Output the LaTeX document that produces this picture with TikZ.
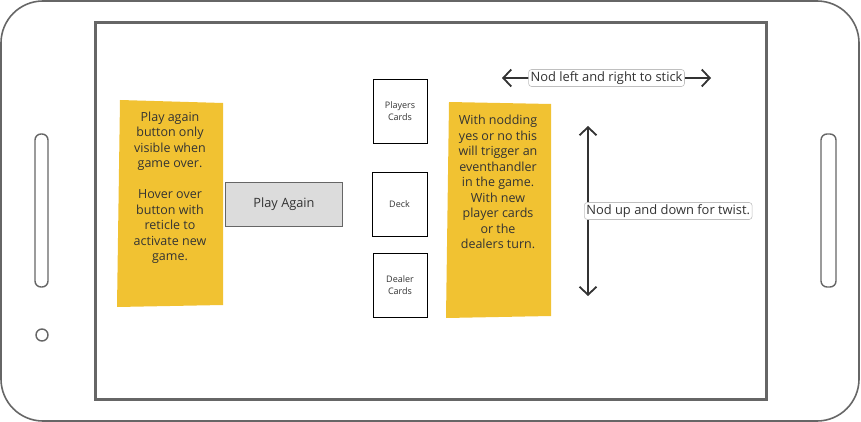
\documentclass[tikz,border=0pt]{standalone}
\usepackage{fontspec}
\setmainfont{Open Sans}
\usetikzlibrary{arrows.meta}
\definecolor{frame}{HTML}{666666}
\definecolor{note}{HTML}{F1C232}
\definecolor{ink}{HTML}{333333}
\definecolor{btn}{HTML}{DCDCDC}
\tikzset{
  phone/.style={draw=frame,line width=1.6pt},
  notetext/.style={text=ink,font=\fontsize{12.5}{15.5}\selectfont,align=center},
  card/.style={draw=black,line width=0.9pt,fill=white},
  cardtext/.style={text=ink,font=\fontsize{9}{12}\selectfont,align=center},
  nodarrow/.style={draw=ink,line width=1.8pt,{Straight Barb[length=8pt,width=17pt,line width=1.8pt]}-{Straight Barb[length=8pt,width=17pt,line width=1.8pt]}},
  tag/.style={draw=black!25,fill=white,rounded corners=3pt,line width=0.6pt,text=ink,font=\fontsize{12.9}{14}\selectfont,inner xsep=2pt,inner ysep=2pt}
}
\begin{document}
\begin{tikzpicture}[x=1pt,y=-1pt]
\useasboundingbox (0,0) rectangle (861,422);
% phone
\draw[phone,rounded corners=42pt] (1,1) rectangle (859,421);
\draw[draw=frame,line width=3pt] (95,23) rectangle (766,399);
\draw[phone,line width=1.4pt,rounded corners=6pt] (35,134) rectangle (48,287);
\draw[phone,line width=1.4pt,rounded corners=6pt] (821,134) rectangle (836,287);
\draw[phone,line width=1.4pt] (42,335) circle (6);
% left note
\fill[note] (120,100) -- (223,103) -- (223,305) -- (117,307) -- cycle;
\node[notetext] (n1) at (170,188) {Play again\\button only\\visible when\\game over.\\[15.5pt]Hover over\\button with\\reticle to\\activate new\\game.};
% play again button
\node[draw=frame,fill=btn,line width=0.8pt,minimum width=117pt,minimum height=44pt,text=ink,font=\fontsize{12.8}{15}\selectfont] (play) at (284,204) {Play Again};
% cards
\node[card,minimum width=54pt,minimum height=64pt] (players) at (400,111) {};
\node[cardtext] at (players.center) {Players\\Cards};
\node[card,minimum width=55pt,minimum height=64pt] (deck) at (399.5,204) {};
\node[cardtext] at (deck.center) {Deck};
\node[card,minimum width=54pt,minimum height=64pt] (dealer) at (400,285) {};
\node[cardtext] at (dealer.center) {Dealer\\Cards};
% right note
\fill[note] (449,102) -- (551,104) -- (551,316) -- (446,318) -- cycle;
\node[notetext] (n2) at (498,182) {With nodding\\yes or no this\\will trigger an\\eventhandler\\in the game.\\With new\\player cards\\or the\\dealers turn.};
% arrows
\coordinate (hl) at (502,78);
\coordinate (hr) at (711,78);
\draw[nodarrow] (hl) -- (hr);
\node[tag] (lr) at (606.5,78) {Nod left and right to stick};
\coordinate (vt) at (588,126);
\coordinate (vb) at (588,296);
\draw[nodarrow] (vt) -- (vb);
\node[tag,anchor=west] (ud) at (584,211) {Nod up and down for twist.};
\end{tikzpicture}
\end{document}
